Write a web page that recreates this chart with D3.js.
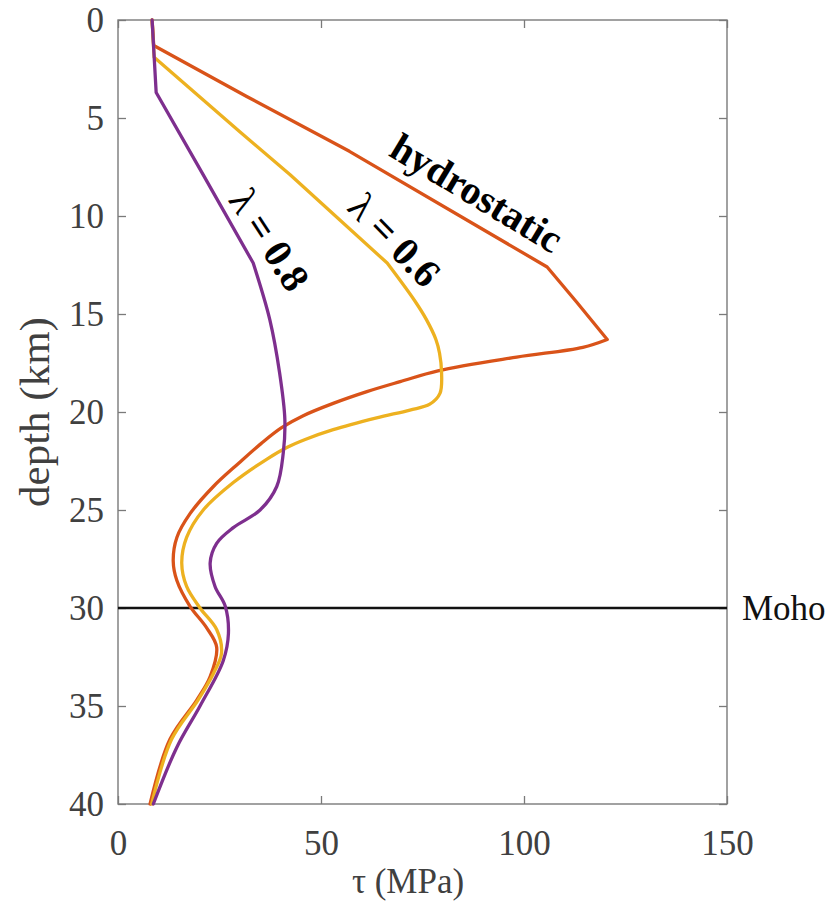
<!DOCTYPE html>
<html>
<head>
<meta charset="utf-8">
<script src="https://cdn.jsdelivr.net/npm/d3@7"></script>
<style>
  body { margin: 0; background: #fff; }
  svg { display: block; }
</style>
</head>
<body>
<svg id="chart" width="839" height="908"></svg>
<script>
// Shear stress profiles versus depth for three pore-pressure cases
const xTicks = [0, 50, 100, 150];
const yTicks = [0, 5, 10, 15, 20, 25, 30, 35, 40];

// hydrostatic pore pressure
const hydroDepth = [0, 1.3, 3.9, 6.7, 12.6, 14.4, 16.3, 16.7, 17.2, 17.9, 18.45, 18.96, 19.56, 20.2, 20.8, 21.6, 22.6, 23.8, 25.2, 26.4, 27.6, 28.6, 29.9, 31.0, 32.0, 33.5, 34.7, 36.7, 40];
const hydroTau   = [8.4, 8.8, 31.7, 57.0, 105.7, 113.0, 120.5, 114.5, 98.2, 78.8, 69.5, 61.3, 53.0, 45.5, 40.3, 35.3, 29.8, 23.5, 17.7, 14.5, 13.6, 14.5, 17.7, 21.8, 24.3, 22.7, 19.4, 12.8, 7.9];
const hydroStraightTo = 16.3;

// lambda = 0.6
const l06Depth = [0, 1.9, 5.7, 7.9, 12.4, 14.3, 15.3, 16.3, 17.0, 18.0, 19.05, 19.6, 19.9, 20.3, 20.9, 21.4, 21.8, 22.4, 23.6, 25.0, 26.4, 27.7, 28.9, 30.0, 31.1, 32.3, 33.3, 34.7, 36.7, 40];
const l06Tau   = [8.4, 8.9, 30.0, 42.4, 66.3, 73.0, 76.0, 78.3, 79.2, 79.7, 79.3, 76.8, 71.9, 63.7, 53.0, 46.1, 41.7, 36.7, 28.4, 21.0, 16.9, 15.7, 16.9, 20.2, 24.3, 25.5, 23.6, 19.7, 13.2, 8.3];
const l06StraightTo = 12.4;

// lambda = 0.8
const l08Depth = [0, 3.7, 7.9, 12.4, 15.3, 18.0, 20.4, 22.1, 23.8, 25.0, 25.9, 26.7, 27.7, 28.9, 29.9, 31.3, 32.7, 35.0, 37.1, 40];
const l08Tau   = [8.4, 9.4, 21.0, 33.3, 37.4, 39.8, 41.1, 40.7, 39.1, 35.0, 28.4, 24.3, 22.7, 23.9, 26.4, 27.2, 25.9, 20.2, 14.5, 8.7];
const l08StraightTo = 12.4;

const mohoDepth = 30;

const series = [
  { depth: hydroDepth, tau: hydroTau, straightTo: hydroStraightTo, color: "#D95319" },
  { depth: l06Depth,   tau: l06Tau,   straightTo: l06StraightTo,   color: "#EDB120" },
  { depth: l08Depth,   tau: l08Tau,   straightTo: l08StraightTo,   color: "#7E2F8E" }
];

const serif = '"Liberation Serif", "Times New Roman", serif';
const svg = d3.select("#chart");
const x = d3.scaleLinear().domain([0, 150]).range([118, 727]);
const y = d3.scaleLinear().domain([0, 40]).range([20, 804]);

const axisColor = "#7a7a7a";
const tickText = "#404040";

// axes box
svg.append("rect")
  .attr("x", x(0)).attr("y", y(0))
  .attr("width", x(150) - x(0)).attr("height", y(40) - y(0))
  .attr("fill", "none").attr("stroke", axisColor).attr("stroke-width", 1.4);

function styleAxis(g) {
  g.attr("font-family", null).attr("font-size", null);
  g.select(".domain").remove();
  g.selectAll(".tick line").attr("stroke", axisColor).attr("stroke-width", 1.3);
  g.selectAll(".tick text").attr("fill", tickText)
    .style("font-size", "35px").style("font-family", serif);
}

svg.append("g").attr("transform", `translate(0,${y(40)})`)
  .call(d3.axisBottom(x).tickValues(xTicks).tickSizeInner(-8).tickSizeOuter(0).tickPadding(26))
  .call(styleAxis);
svg.append("g").attr("transform", `translate(0,${y(0)})`)
  .call(d3.axisTop(x).tickValues(xTicks).tickSizeInner(-8).tickSizeOuter(0).tickFormat(""))
  .call(styleAxis);
svg.append("g").attr("transform", `translate(${x(0)},0)`)
  .call(d3.axisLeft(y).tickValues(yTicks).tickSizeInner(-8).tickSizeOuter(0).tickPadding(14))
  .call(styleAxis);
svg.append("g").attr("transform", `translate(${x(150)},0)`)
  .call(d3.axisRight(y).tickValues(yTicks).tickSizeInner(-8).tickSizeOuter(0).tickFormat(""))
  .call(styleAxis);

// Moho line
svg.append("line")
  .attr("x1", x(0)).attr("x2", x(150))
  .attr("y1", y(mohoDepth)).attr("y2", y(mohoDepth))
  .attr("stroke", "#111").attr("stroke-width", 2.6);
svg.append("text")
  .attr("x", x(150) + 15).attr("y", y(mohoDepth) + 12)
  .style("font-size", "35px").style("font-family", serif)
  .attr("fill", "#111").text("Moho");

// profiles: straight upper segment, smooth lower segment
const straight = d3.line().x(d => x(d[1])).y(d => y(d[0])).curve(d3.curveLinear);
const smooth = d3.line().x(d => x(d[1])).y(d => y(d[0])).curve(d3.curveCatmullRom.alpha(0.5));

series.forEach(s => {
  const pts = s.depth.map((d, i) => [d, s.tau[i]]);
  const k = s.depth.indexOf(s.straightTo);
  const upper = pts.slice(0, k + 1);
  const lower = pts.slice(k);
  svg.append("path")
    .attr("d", straight(upper) + smooth(lower))
    .attr("fill", "none")
    .attr("stroke", s.color)
    .attr("stroke-width", 3.3)
    .attr("stroke-linejoin", "round")
    .attr("stroke-linecap", "round");
});

// curve labels
function curveLabel(tau, depth, angle, parts) {
  const t = svg.append("text")
    .attr("transform", `translate(${x(tau)},${y(depth)}) rotate(${angle})`)
    .attr("text-anchor", "middle")
    .attr("dy", "0.35em")
    .style("font-size", "40px").style("font-family", serif)
    .attr("fill", "#000");
  parts.forEach(p => t.append("tspan").style("font-weight", p.w).text(p.t));
}
curveLabel(88.4, 8.8, 31, [{ t: "hydrostatic", w: "bold" }]);
curveLabel(68.2, 11.2, 46, [{ t: "λ", w: "normal" }, { t: " = 0.6", w: "bold" }]);
curveLabel(37.4, 11.2, 57, [{ t: "λ", w: "normal" }, { t: " = 0.8", w: "bold" }]);

// axis titles
svg.append("text")
  .attr("x", 408).attr("y", 893)
  .attr("text-anchor", "middle")
  .style("font-size", "35px").style("font-family", serif)
  .attr("fill", tickText)
  .text("τ (MPa)");
svg.append("text")
  .attr("transform", `translate(49,${(y(0) + y(40)) / 2}) rotate(-90)`)
  .attr("text-anchor", "middle")
  .style("font-size", "43px").style("font-family", serif)
  .attr("fill", tickText)
  .text("depth (km)");
</script>
</body>
</html>
